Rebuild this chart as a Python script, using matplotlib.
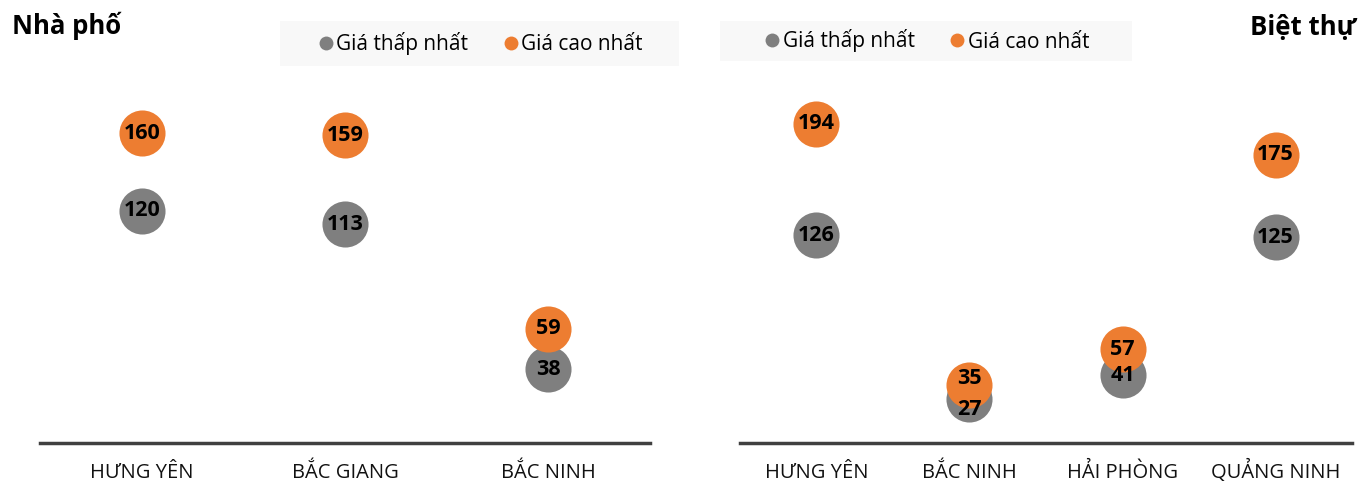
import matplotlib
matplotlib.use("Agg")
import matplotlib.pyplot as plt
from matplotlib.lines import Line2D
from matplotlib.patches import Rectangle

plt.rcParams['font.family'] = ['Open Sans', 'DejaVu Sans']

# Data
np_categories = ["HƯNG YÊN", "BẮC GIANG", "BẮC NINH"]
np_min = [120, 113, 38]
np_max = [160, 159, 59]

bt_categories = ["HƯNG YÊN", "BẮC NINH", "HẢI PHÒNG", "QUẢNG NINH"]
bt_min = [126, 27, 41, 125]
bt_max = [194, 35, 57, 175]

series_names = ["Giá thấp nhất", "Giá cao nhất"]
GREY = "#7F7F7F"
ORANGE = "#ED7D31"
AXIS = "#404040"

W, H = 1360, 484
fig = plt.figure(figsize=(W / 100, H / 100), dpi=100)


def px_rect(x0, x1, y_top, y_bot):
    return [x0 / W, 1 - y_bot / H, (x1 - x0) / W, (y_bot - y_top) / H]


def panel(rect, cats, mins, maxs, ytop):
    ax = fig.add_axes(rect)
    xs = list(range(len(cats)))
    ax.scatter(xs, mins, s=1100, color=GREY, zorder=2, linewidths=0)
    ax.scatter(xs, maxs, s=1100, color=ORANGE, zorder=3, linewidths=0)
    for x, lo, hi in zip(xs, mins, maxs):
        # nudge labels apart when the two circles nearly coincide
        close = (hi - lo) < 12
        ax.annotate(str(lo), (x, lo), xytext=(0, -8 if close else 0),
                    textcoords='offset points', ha='center', va='center',
                    fontsize=15.5, fontweight='bold', color='black', zorder=5)
        ax.annotate(str(hi), (x, hi), xytext=(0, 5 if close else 0),
                    textcoords='offset points', ha='center', va='center',
                    fontsize=15.5, fontweight='bold', color='black', zorder=6)
    ax.set_xlim(-0.5, len(cats) - 0.5)
    ax.set_ylim(0, ytop)
    ax.set_xticks(xs)
    ax.set_xticklabels(cats, fontsize=14.5, color='#111111', va='baseline')
    ax.tick_params(axis='x', length=0, pad=25)
    ax.set_yticks([])
    for s in ['top', 'right', 'left']:
        ax.spines[s].set_visible(False)
    ax.spines['bottom'].set_color(AXIS)
    ax.spines['bottom'].set_linewidth(2.5)
    ax.patch.set_alpha(0)
    return ax


ax1 = panel(px_rect(40, 650, 0, 443), np_categories, np_min, np_max, 229)
ax2 = panel(px_rect(740, 1352, 0, 443), bt_categories, bt_min, bt_max, 269)

fig.text(12 / W, 1 - 26 / H, "Nhà phố", fontsize=18.5, fontweight='bold',
         ha='left', va='center')
fig.text(1356 / W, 1 - 27 / H, "Biệt thự", fontsize=18.5, fontweight='bold',
         ha='right', va='center')

handles = [
    Line2D([], [], marker='o', linestyle='none', markersize=10,
           markerfacecolor=GREY, markeredgewidth=0, label=series_names[0]),
    Line2D([], [], marker='o', linestyle='none', markersize=10,
           markerfacecolor=ORANGE, markeredgewidth=0, label=series_names[1]),
]


def legend_box(x0, x1, y0, y1):
    r = Rectangle((x0 / W, 1 - y1 / H), (x1 - x0) / W, (y1 - y0) / H,
                  transform=fig.transFigure, facecolor="#F8F8F8",
                  edgecolor='none', zorder=0)
    fig.patches.append(r)
    fig.legend(handles=handles, loc='center',
               bbox_to_anchor=((x0 + x1) / 2 / W, 1 - (y0 + y1) / 2 / H),
               ncol=2, frameon=False, fontsize=15, handletextpad=0.05,
               columnspacing=1.6, handlelength=0.9, borderpad=0)


legend_box(280, 679, 21, 66)
legend_box(720, 1132, 21, 61)

fig.savefig("out.png", dpi=100)
